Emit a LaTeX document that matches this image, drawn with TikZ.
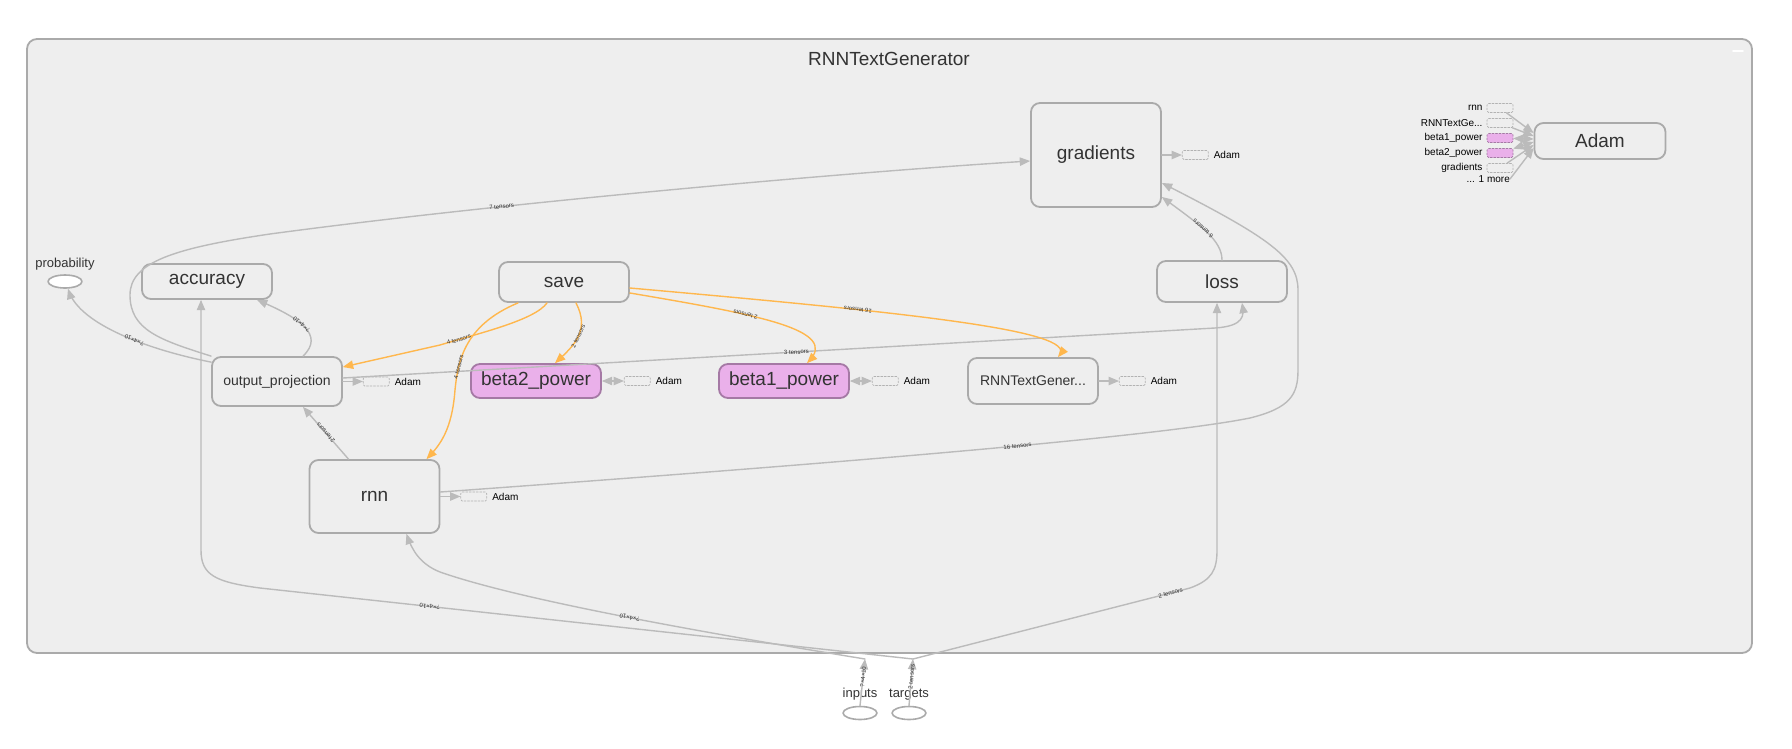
\documentclass[tikz,border=0pt]{standalone}
\usepackage{fontspec}
\setmainfont{Liberation Sans}
\usepackage{tikz}
\usetikzlibrary{arrows,positioning,shapes.geometric}
\definecolor{bgcol}{rgb}{0.933,0.933,0.933}
\definecolor{boxline}{rgb}{0.667,0.667,0.667}
\definecolor{edgecol}{rgb}{0.733,0.733,0.733}
\definecolor{ctrlcol}{rgb}{1.0,0.718,0.302}
\definecolor{varfill}{rgb}{0.918,0.69,0.918}
\definecolor{varline}{rgb}{0.647,0.475,0.647}
\definecolor{labcol}{rgb}{0.2,0.2,0.2}
\definecolor{auxline}{rgb}{0.7,0.7,0.7}
\tikzset{
	opnode/.style={draw=boxline, fill=bgcol, line width=1.8pt, rounded corners=9pt, text=labcol, inner sep=0pt, font=\fontsize{19}{23}\selectfont},
	varnode/.style={opnode, draw=varline, fill=varfill, minimum width=130pt, minimum height=34pt},
	leaf/.style={ellipse, draw=boxline, fill=white, line width=1.6pt, minimum width=34pt, minimum height=13pt, inner sep=0pt},
	leaftext/.style={text=labcol, inner sep=0pt, font=\fontsize{13}{15}\selectfont},
	flow/.style={draw=edgecol, line width=1.4pt, ->},
	saveflow/.style={draw=ctrlcol, line width=1.4pt, ->},
	elabel/.style={sloped, allow upside down, inner sep=0.5pt, text=labcol, font=\fontsize{6}{7}\selectfont},
	flipped/.style={rotate=180},
	auxbox/.style={draw=auxline, dash pattern=on 2pt off 1.5pt, line width=0.7pt, rounded corners=1.5pt, minimum width=26pt, minimum height=9pt, inner sep=0pt},
	auxvar/.style={auxbox, draw=varline, fill=varfill},
	auxtext/.style={inner sep=0pt, text=black, font=\fontsize{10}{12}\selectfont},
}
\begin{document}
\begin{tikzpicture}[line cap=round,line join=round,>=triangle 45,x=1pt,y=1pt]
			\useasboundingbox (0,0) rectangle (1792,-748);
			\draw [draw=boxline, fill=bgcol, line width=1.8pt, rounded corners=10pt] (27,-39) rectangle (1752,-653);
			\draw [white, line width=1.8pt] (1733,-51) -- (1743,-51);
			\node [text=labcol, font=\fontsize{19}{23}\selectfont] (title) at (889,-59) {RNNTextGenerator};
			\node [opnode, minimum width=130pt, minimum height=104pt] (grad) at (1096,-155) {gradients};
			\node [opnode, minimum width=130pt, minimum height=41pt] (loss) at (1222,-281.5) {loss};
			\node [opnode, minimum width=130pt, minimum height=46pt, font=\fontsize{14}{17}\selectfont] (rtg) at (1033,-381) {RNNTextGener...};
			\node [opnode, minimum width=130pt, minimum height=40pt] (save) at (564,-282) {save};
			\node [varnode] (b2) at (536,-381) {beta2\_power};
			\node [varnode] (b1) at (784,-381) {beta1\_power};
			\node [opnode, minimum width=130pt, minimum height=49pt, font=\fontsize{14}{17}\selectfont] (outproj) at (277,-381.5) {output\_projection};
			\node [opnode, minimum width=130pt, minimum height=35pt] (acc) at (207,-281.5) {accuracy};
			\node [opnode, minimum width=130pt, minimum height=73pt] (rnn) at (374.5,-496.5) {rnn};
			\node [opnode, minimum width=131pt, minimum height=36pt] (adam) at (1600,-141) {Adam};
			\node [leaf] (prob) at (65,-281.5) {};
			\node [leaftext, above=4pt of prob] (probt) {probability};
			\node [leaf] (inp) at (860,-713) {};
			\node [leaftext, above=5pt of inp] (inpt) {inputs};
			\node [leaf] (tgt) at (909,-713) {};
			\node [leaftext, above=5pt of tgt] (tgtt) {targets};
			\coordinate (inin) at (865,-659);
			\coordinate (tgin) at (913,-659);
			\node [auxbox, right=20pt of grad] (gradaux) {};
			\node [auxtext, right=5pt of gradaux] (gradauxt) {Adam};
			\node [auxbox, right=20pt of rtg] (rtgaux) {};
			\node [auxtext, right=5pt of rtgaux] (rtgauxt) {Adam};
			\node [auxbox, right=20pt of outproj] (outprojaux) {};
			\node [auxtext, right=5pt of outprojaux] (outprojauxt) {Adam};
			\node [auxbox, right=20pt of rnn] (rnnaux) {};
			\node [auxtext, right=5pt of rnnaux] (rnnauxt) {Adam};
			\node [auxbox, right=22pt of b2] (b2aux) {};
			\node [auxtext, right=5pt of b2aux] (b2auxt) {Adam};
			\node [auxbox, right=22pt of b1] (b1aux) {};
			\node [auxtext, right=5pt of b1aux] (b1auxt) {Adam};
			\node [auxbox] (adamrnn) at (1500,-108) {};
			\node [auxtext, left=4pt of adamrnn] (adamrnnt) {rnn};
			\node [auxbox] (adamrtg) at (1500,-123) {};
			\node [auxtext, left=4pt of adamrtg] (adamrtgt) {RNNTextGe...};
			\node [auxvar] (adamb1) at (1500,-138) {};
			\node [auxtext, left=4pt of adamb1] (adamb1t) {beta1\_power};
			\node [auxvar] (adamb2) at (1500,-153) {};
			\node [auxtext, left=4pt of adamb2] (adamb2t) {beta2\_power};
			\node [auxbox] (adamgrad) at (1500,-168) {};
			\node [auxtext, left=4pt of adamgrad] (adamgradt) {gradients};
			\node [auxtext, anchor=east] (adammore) at (1510,-179) {... 1 more};
			\draw [flow] (grad) -- (gradaux);
			\draw [flow] (rtg) -- (rtgaux);
			\draw [flow] (outproj) -- (outprojaux);
			\draw [flow] (rnn) -- (rnnaux);
			\draw [flow, <->] (b2) -- (b2aux);
			\draw [flow, <->] (b1) -- (b1aux);
			\draw [flow] (adamrnn) -- ([yshift=8pt]adam.west);
			\draw [flow] (adamrtg) -- ([yshift=5pt]adam.west);
			\draw [flow, <->] (adamb1) -- ([yshift=2pt]adam.west);
			\draw [flow, <->] (adamb2) -- ([yshift=-1pt]adam.west);
			\draw [flow] (adamgrad) -- ([yshift=-4pt]adam.west);
			\draw [flow] (adammore.east) -- ([yshift=-7pt]adam.west);
			\draw [flow] (outproj.north west) .. controls (160,-340) and (130,-330) .. (130,-295) .. controls (130,-262) and (175,-248) .. (270,-234) .. controls (500,-203) and (850,-172) .. ([yshift=-6pt]grad.west) node [elabel, pos=0.3] {7 tensors};
			\draw [flow] ([yshift=-6pt]outproj.north west) .. controls (150,-350) and (80,-325) .. ([xshift=3pt]prob.south) node [elabel, pos=0.42] {?×4×10};
			\draw [flow] ([xshift=26pt]outproj.north) .. controls (325,-335) and (300,-318) .. ([xshift=50pt]acc.south) node [elabel, pos=0.55] {?×4×10};
			\draw [flow] ([yshift=3.5pt]outproj.east) -- (1215,-328) node [elabel, pos=0.52] {3 tensors} .. controls (1245,-326) and (1244,-315) .. ([xshift=20pt]loss.south);
			\draw [flow] ([xshift=-26pt]rnn.north) -- ([xshift=26pt]outproj.south) node [elabel, midway] {2 tensors};
			\draw [flow] ([yshift=4.5pt]rnn.east) .. controls (800,-466) and (1150,-438) .. (1250,-418) node [elabel, pos=0.59] {16 tensors} .. controls (1290,-408) and (1298,-395) .. (1298,-370) -- (1298,-290) .. controls (1298,-258) and (1270,-238) .. ([yshift=-28pt]grad.east);
			\draw [flow] (loss.north) .. controls (1222,-240) and (1200,-225) .. ([yshift=-42pt]grad.east) node [elabel, pos=0.55] {6 tensors};
			\draw [saveflow] ([xshift=-17pt]save.south) .. controls (535,-320) and (480,-333) .. (440,-345) node [elabel, flipped, pos=0.85] {4 tensors} -- ([yshift=14.5pt]outproj.east);
			\draw [saveflow] ([xshift=-46pt]save.south) .. controls (465,-325) and (458,-360) .. (455,-390) node [elabel, flipped, pos=0.75] {4 tensors} .. controls (452,-430) and (440,-445) .. ([xshift=52pt]rnn.north);
			\draw [saveflow] ([xshift=12pt]save.south) .. controls (590,-330) and (575,-345) .. ([xshift=19pt]b2.north) node [elabel, flipped, midway] {2 tensors};
			\draw [saveflow] ([yshift=-11pt]save.east) .. controls (760,-315) and (840,-330) .. ([xshift=23pt]b1.north) node [elabel, flipped, pos=0.35] {2 tensors};
			\draw [saveflow] ([yshift=-6pt]save.east) .. controls (900,-312) and (1080,-330) .. ([xshift=25pt]rtg.north) node [elabel, flipped, pos=0.32] {16 tensors};
			\draw [flow] (inp.north) -- (inin) node [elabel, pos=0.62] {?×4×10};
			\draw [flow] (tgt.north) -- (tgin) node [elabel, pos=0.62] {2 tensors};
			\draw [flow] (inin) .. controls (700,-632) and (520,-600) .. (440,-572) node [elabel, pos=0.48] {?×4×10} .. controls (420,-564) and (412,-550) .. ([xshift=32pt]rnn.south);
			\draw [flow] (tgin) -- (260,-588) node [elabel, pos=0.74] {?×4×10} .. controls (215,-582) and (201,-575) .. (201,-550) -- ([xshift=-6pt]acc.south);
			\draw [flow] (tgin) -- (1190,-588) node [elabel, pos=0.93] {2 tensors} .. controls (1212,-580) and (1217,-570) .. (1217,-550) -- ([xshift=-5pt]loss.south);
\end{tikzpicture}
\end{document}
